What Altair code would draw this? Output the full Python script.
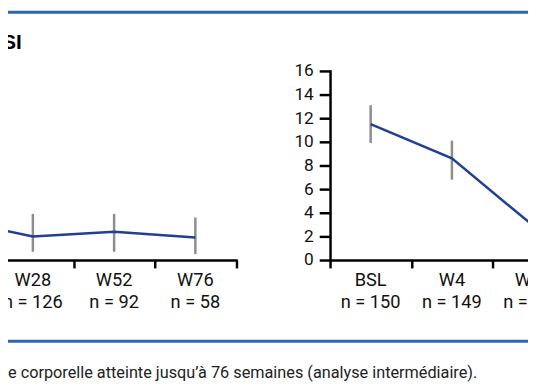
import altair as alt
import pandas as pd

# ---- data ----
weeks = ["BSL", "W4", "W16", "W28", "W52", "W76"]

# left panel (only its last part is visible)
left_weeks = ["W16", "W28", "W52", "W76"]
left_n = [None, 126, 92, 58]
left_mean = [3.4, 2.0, 2.4, 1.9]
left_low = [None, 0.7, 0.7, 0.5]
left_high = [None, 3.9, 3.9, 3.6]

# right panel (only its first part is visible)
right_weeks = ["BSL", "W4", "W16"]
right_n = [150, 149, 146]
right_mean = [11.5, 8.6, 2.9]
right_low = [9.9, 6.8, None]
right_high = [13.1, 10.1, None]

y_ticks = list(range(0, 17, 2))
footnote = "e corporelle atteinte jusqu’à 76 semaines (analyse intermédiaire)."
title_fragment = "SI"

LINE_BLUE = "#213f94"
BAR_GRAY = "#8d8d8d"
FRAME_BLUE = "#2c66b0"
FONT = "Roboto"


def frame(ws, ns, mean, low, high):
    df = pd.DataFrame({"week": ws, "n": ns, "mean": mean, "low": low, "high": high})
    df["pos"] = [weeks.index(w) + 0.5 for w in ws]
    df["nlabel"] = ["" if pd.isna(v) else f"n = {int(v)}" for v in df["n"]]
    df["wlabel"] = ["" if pd.isna(v) else w for w, v in zip(df["week"], df["n"])]
    return df


left_df = frame(left_weeks, left_n, left_mean, left_low, left_high)
right_df = frame(right_weeks, right_n, right_mean, right_low, right_high)

H = 192
yscale = alt.Scale(domain=[0, 16], nice=False, zero=True)
yaxis = alt.Axis(values=y_ticks, title=None, grid=False, labelFont=FONT,
                 labelFontSize=17.5, labelColor="#111", labelPadding=6,
                 tickSize=11, tickWidth=2.5, tickColor="black",
                 domainColor="black", domainWidth=2.5, domainCap="square")


def panel(df, xrange, tick_values):
    xs = alt.Scale(domain=[0, 6], range=xrange, nice=False, zero=False)
    xaxis = alt.Axis(values=tick_values, labels=False, title=None, grid=False,
                     orient="bottom", tickSize=8, tickWidth=2.5, tickColor="black",
                     domainColor="black", domainWidth=2.5, domainCap="square")
    base = alt.Chart(df)
    bars = base.transform_filter("isValid(datum.low)").mark_rule(
        color=BAR_GRAY, strokeWidth=2.5
    ).encode(x=alt.X("pos:Q", scale=xs, axis=xaxis),
             y=alt.Y("low:Q", scale=yscale, axis=yaxis), y2="high:Q")
    line = base.mark_line(color=LINE_BLUE, strokeWidth=2.5).encode(
        x=alt.X("pos:Q", scale=xs), y=alt.Y("mean:Q", scale=yscale, axis=yaxis)
    )
    wl = base.mark_text(font=FONT, fontSize=18.5, color="#111", baseline="alphabetic").encode(
        x=alt.X("pos:Q", scale=xs), y=alt.value(H + 26), text="wlabel:N"
    )
    nl = base.mark_text(font=FONT, fontSize=18.5, color="#111", baseline="alphabetic").encode(
        x=alt.X("pos:Q", scale=xs), y=alt.value(H + 49), text="nlabel:N"
    )
    return alt.layer(bars, line, wl, nl)


BAND = 82.5
left = panel(left_df, [-95.5 - 6 * BAND, -95.5], [3, 4, 5, 6])
right = panel(right_df, [0, 6 * BAND], [0, 1, 2, 3])

deco_df = pd.DataFrame({"k": [0]})
deco = alt.Chart(deco_df)
top_rule = deco.mark_rule(color=FRAME_BLUE, strokeWidth=3).encode(
    x=alt.value(-330), x2=alt.value(210), y=alt.value(-59.5))
bottom_rule = deco.mark_rule(color=FRAME_BLUE, strokeWidth=3).encode(
    x=alt.value(-330), x2=alt.value(210), y=alt.value(274.5))
title_txt = deco.mark_text(font="Liberation Sans", fontWeight="bold", fontSize=21,
                           align="right", baseline="alphabetic", color="black").encode(
    x=alt.value(-313), y=alt.value(-22), text=alt.value(title_fragment))
foot_txt = deco.mark_text(font=FONT, fontSize=16.5, align="left", baseline="alphabetic",
                          color="#222").encode(
    x=alt.value(-327), y=alt.value(312), text=alt.value(footnote))

chart = alt.layer(left, right, top_rule, bottom_rule, title_txt, foot_txt).resolve_scale(
    x="independent"
).resolve_axis(x="independent").properties(
    width=201, height=H,
    padding={"left": 327, "top": 61, "right": 0, "bottom": 125},
    autosize=alt.AutoSizeParams(type="none"),
    background="white",
).configure_view(stroke=None)

chart.save("out.html", embed_options={"renderer": "svg", "actions": False})
